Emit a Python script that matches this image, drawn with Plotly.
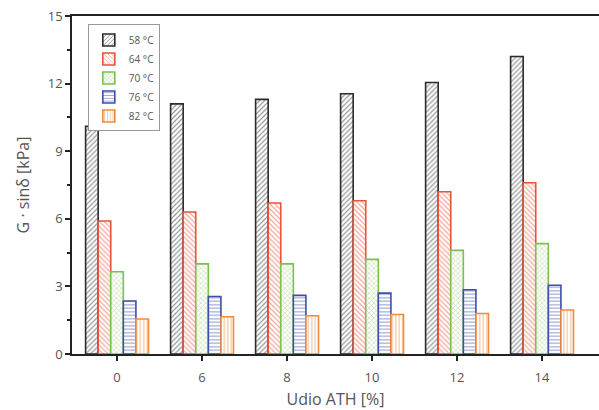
import plotly.graph_objects as go

categories = ["0", "6", "8", "10", "12", "14"]
series_names = ["58 °C", "64 °C", "70 °C", "76 °C", "82 °C"]
v58 = [10.1, 11.1, 11.3, 11.55, 12.05, 13.2]
v64 = [5.9, 6.3, 6.7, 6.8, 7.2, 7.6]
v70 = [3.65, 4.0, 4.0, 4.2, 4.6, 4.9]
v76 = [2.35, 2.55, 2.6, 2.7, 2.85, 3.05]
v82 = [1.55, 1.65, 1.7, 1.75, 1.8, 1.95]
y_ticks = [0, 3, 6, 9, 12, 15]

values = [v58, v64, v70, v76, v82]
colors = ["#2b2b2b", "#e8543a", "#7cc14e", "#3f4fa8", "#f08a3c"]
shapes = ["/", "\\", "x", "-", "|"]

fig = go.Figure()
for name, vals, c, sh in zip(series_names, values, colors, shapes):
    fig.add_trace(go.Bar(
        x=categories, y=vals, name=name,
        marker=dict(color="white", line=dict(color=c, width=1.6),
                    pattern=dict(shape=sh, fgcolor=c, bgcolor="white", size=3.5, solidity=0.35)),
    ))

fig.update_layout(
    width=599, height=410,
    margin=dict(l=72, r=0, t=16, b=56),
    paper_bgcolor="white", plot_bgcolor="white",
    barmode="group", bargap=0.26, bargroupgap=0,
    font=dict(family="Open Sans", color="#555555", size=13),
    showlegend=True,
    legend=dict(x=0.03, y=0.975, xanchor="left", yanchor="top",
                bordercolor="#999999", borderwidth=1, bgcolor="white",
                font=dict(size=10, color="#555555"), tracegroupgap=0,
                itemwidth=30),
)
fig.update_xaxes(
    type="category", range=[-0.53, 5.67],
    showline=True, linecolor="#222222", linewidth=1.5, mirror=True,
    ticks="outside", ticklen=5, tickwidth=2, tickcolor="#222222",
    ticklabelstandoff=6,
    showgrid=False, zeroline=False,
    title=dict(text="Udio ATH [%]", standoff=10),
)
fig.update_yaxes(
    range=[0, 15], tickvals=y_ticks,
    showline=True, linecolor="#222222", linewidth=1.5, mirror=False,
    ticks="outside", ticklen=5, tickwidth=1.5, tickcolor="#222222",
    minor=dict(ticks="outside", ticklen=3, dtick=1.5, tickcolor="#222222"),
    showgrid=False, zeroline=False,
    title=dict(text="G · sinδ [kPa]", standoff=14),
)
fig.write_html("out.html", config={"displayModeBar": False})
